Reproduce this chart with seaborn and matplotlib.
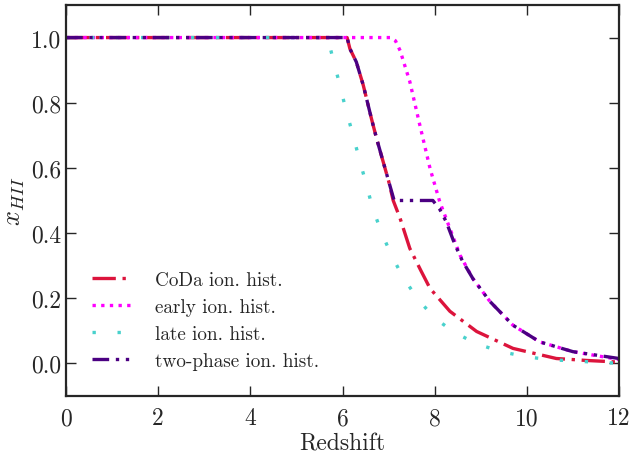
import os
import matplotlib
matplotlib.use("Agg")
import matplotlib.pyplot as plt
from matplotlib.font_manager import FontProperties
import seaborn as sns
import pandas as pd

# Data
coda_z = [0, 6.1, 6.16, 6.3, 6.45, 6.63, 6.74, 6.88, 7.0, 7.1, 7.25, 7.46, 7.7, 7.9, 8.33, 8.91, 9.7, 10.64, 11.3, 12]
coda_x = [1, 1, 0.966, 0.925, 0.854, 0.75, 0.69, 0.62, 0.56, 0.50, 0.445, 0.353, 0.285, 0.23, 0.16, 0.098, 0.046, 0.015, 0.009, 0.004]

early_z = [0, 7.05, 7.15, 7.25, 7.46, 7.68, 7.9, 8.11, 8.33, 8.55, 8.83, 9.2, 9.7, 10.28, 11.0, 12]
early_x = [1, 1, 0.99, 0.96, 0.865, 0.73, 0.598, 0.496, 0.414, 0.332, 0.26, 0.19, 0.117, 0.066, 0.036, 0.012]

late_z = [0, 5.68, 5.8, 5.94, 6.07, 6.22, 6.36, 6.51, 6.65, 6.84, 7.06, 7.32, 7.62, 7.99, 8.44, 8.93, 9.45, 9.99, 10.54, 11.09, 11.64, 12]
late_x = [1, 1, 0.93, 0.856, 0.78, 0.705, 0.629, 0.553, 0.478, 0.404, 0.332, 0.263, 0.20, 0.14, 0.094, 0.059, 0.036, 0.02, 0.011, 0.007, 0.002, 0.001]

two_z = [0, 6.1, 6.16, 6.3, 6.45, 6.63, 6.74, 6.88, 7.0, 7.12, 7.96, 8.11, 8.25, 8.43, 8.6, 8.83, 9.2, 9.7, 10.28, 11.0, 12]
two_x = [1, 1, 0.966, 0.925, 0.854, 0.75, 0.69, 0.62, 0.56, 0.50, 0.50, 0.473, 0.435, 0.368, 0.315, 0.26, 0.19, 0.117, 0.066, 0.036, 0.015]

labels = ["CoDa ion. hist.", "early ion. hist.", "late ion. hist.", "two-phase ion. hist."]
x_ticks = [0, 2, 4, 6, 8, 10, 12]
y_ticks = [0.0, 0.2, 0.4, 0.6, 0.8, 1.0]

sns.set_style("ticks")
plt.rcParams["mathtext.fontset"] = "cm"
plt.rcParams["axes.unicode_minus"] = False

cm_path = os.path.join(matplotlib.get_data_path(), "fonts", "ttf", "cmr10.ttf")
def cmfont(size):
    return FontProperties(fname=cm_path, size=size)

fig = plt.figure(figsize=(6.31, 4.60), dpi=100)
ax = fig.add_axes([0.1046, 0.137, 0.8764, 0.850])

series = [
    (coda_z, coda_x, labels[0], "#DC143C", (0, (7, 2, 1, 2))),
    (early_z, early_x, labels[1], "#FF00FF", (0, (1, 1.6))),
    (late_z, late_x, labels[2], "#48D1CC", (0, (1, 6.5))),
    (two_z, two_x, labels[3], "#4B0082", (0, (5, 2, 1, 2, 1, 2))),
]
for z, xv, lab, col, ls in series:
    df = pd.DataFrame({"z": z, "x": xv})
    sns.lineplot(data=df, x="z", y="x", ax=ax, color=col, linewidth=2.4,
                 linestyle=ls, label=lab, dash_capstyle="butt", sort=False)

ax.set_xlim(0, 12)
ax.set_ylim(-0.1, 1.1)
ax.set_xticks(x_ticks)
ax.set_yticks(y_ticks)
ax.set_xticklabels([str(t) for t in x_ticks], fontproperties=cmfont(17))
ax.set_yticklabels([f"{t:.1f}" for t in y_ticks], fontproperties=cmfont(17))
ax.tick_params(direction="in", length=7.5, width=1, top=True, right=True)
ax.tick_params(axis="x", pad=8)
ax.tick_params(axis="y", pad=3.5)
for s in ax.spines.values():
    s.set_linewidth(1.6)
    s.set_visible(True)

ax.set_xlabel("Redshift", fontproperties=cmfont(17), labelpad=2)
ax.set_ylabel(r"$x_{HII}$", fontsize=19)
ax.yaxis.set_label_coords(-0.07, 0.5)

leg = ax.legend(loc="lower left", bbox_to_anchor=(0.034, 0.047), frameon=False,
                prop=cmfont(13.8), handlelength=2.0, handletextpad=1.25,
                labelspacing=0.47, borderaxespad=0)

fig.savefig("out.png", dpi=100)
